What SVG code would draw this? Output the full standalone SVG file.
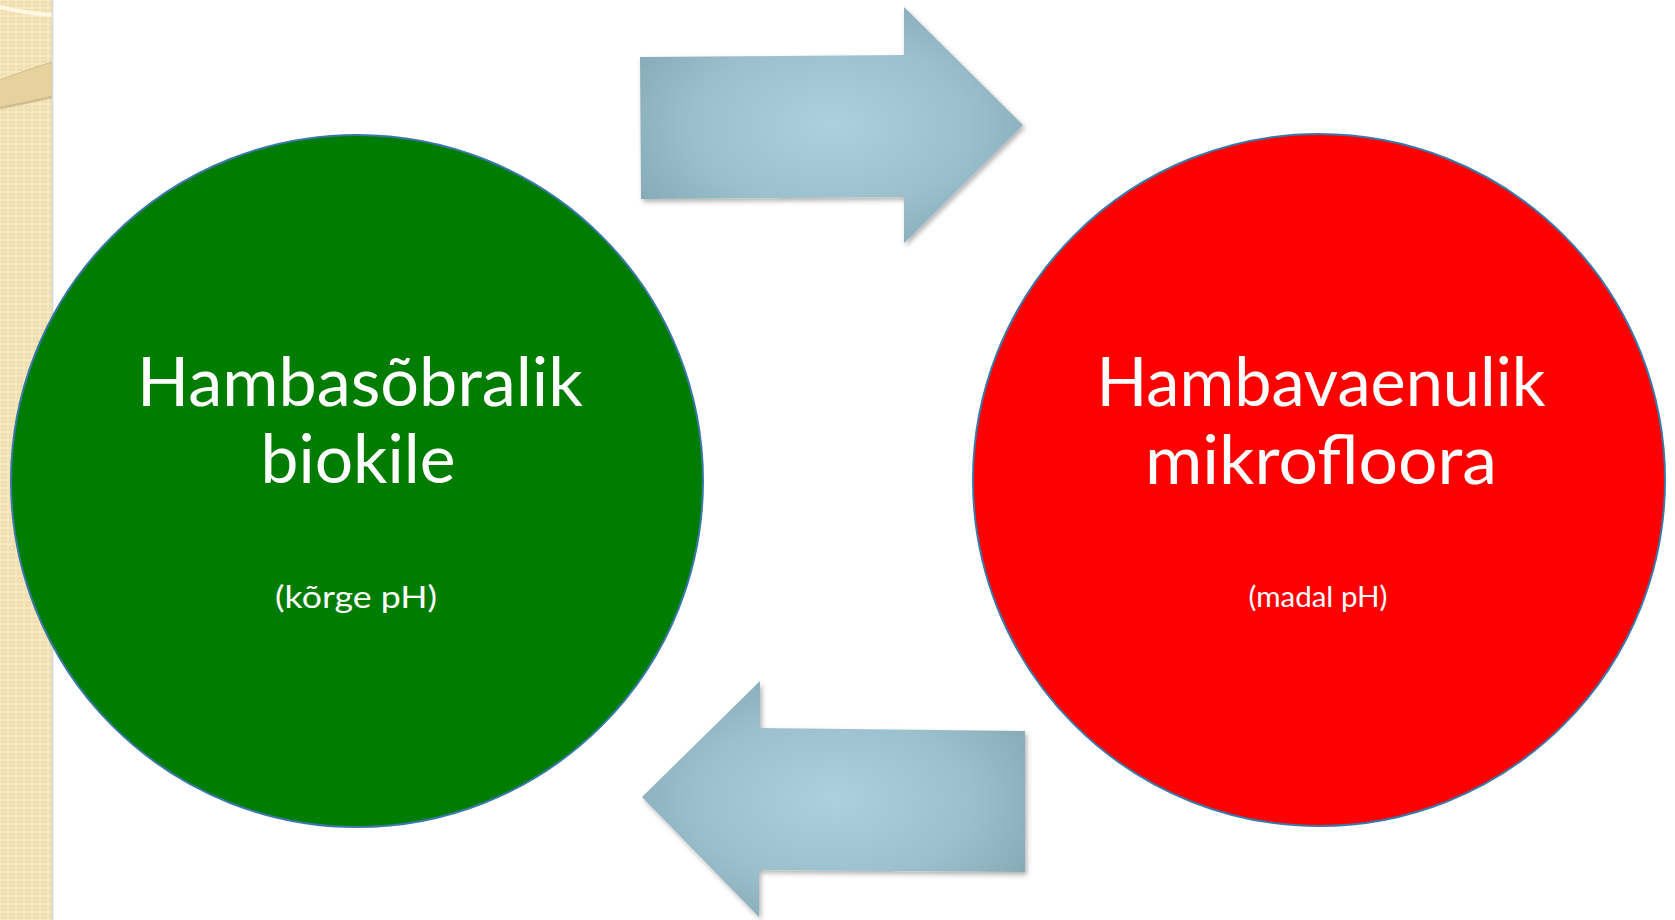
<svg xmlns="http://www.w3.org/2000/svg" width="1675" height="920" viewBox="0 0 1675 920">
  <style>
    .title { font-family: "Lato", "Open Sans", "Liberation Sans", sans-serif; fill: #ffffff; text-anchor: middle; }
    .big { font-size: 68px; }
    .small { font-size: 30px; }
    .circle { stroke: #3a78a8; stroke-width: 2; }
    .arrow { fill: url(#arrowGrad); filter: url(#shadow); }
  </style>
  <defs>
    <pattern id="weave" x="0" y="0" width="8" height="8" patternUnits="userSpaceOnUse">
      <rect width="8" height="8" fill="#f6e8c1"/>
      <rect x="1" y="1" width="6" height="6" fill="#eedcab"/>
      <rect x="2.5" y="2.5" width="3" height="3" fill="#f5e5ba"/>
    </pattern>
    <radialGradient id="arrowGrad" cx="50%" cy="50%" r="60%">
      <stop offset="0" stop-color="#acd0de"/>
      <stop offset="0.6" stop-color="#9cbfcd"/>
      <stop offset="1" stop-color="#86a9b6"/>
    </radialGradient>
    <filter id="shadow" x="-10%" y="-10%" width="120%" height="125%">
      <feDropShadow dx="2" dy="3" stdDeviation="2.5" flood-color="#000000" flood-opacity="0.3"/>
    </filter>
  </defs>

  <rect width="1675" height="920" fill="#ffffff"/>

  <!-- left decorative strip -->
  <g id="strip">
    <rect x="0" y="0" width="52" height="920" fill="url(#weave)"/>
    <path d="M0,7 Q28,14 52,15" fill="none" stroke="#fff8e4" stroke-width="4"/>
    <path d="M0,80 Q26,70 52,62 L52,97 Q26,103 0,108 Z" fill="#e7d29d"/>
    <path d="M0,80 Q26,70 52,62" fill="none" stroke="#cdbb8c" stroke-width="1"/>
    <path d="M0,108 Q26,103 52,97" fill="none" stroke="#c8b78c" stroke-width="2.5" opacity="0.8"/>
    <line x1="52.5" y1="0" x2="52.5" y2="920" stroke="#d4d4d4" stroke-width="1.5"/>
  </g>

  <!-- connectors -->
  <g id="connectors">
    <polygon class="arrow" points="640,57 904,55 904,7 1023,125 904,243 904,197 641,199"/>
    <polygon class="arrow" points="642,797 760,681 760,728 1025,731 1025,872 759,870 759,917"/>
  </g>

  <g id="node-green">
    <circle class="circle" cx="357" cy="481" r="346" fill="#007c00"/>
    <text class="title big" x="360" y="406" textLength="446" lengthAdjust="spacingAndGlyphs">Hambasõbralik</text>
    <text class="title big" x="358" y="483" textLength="195" lengthAdjust="spacingAndGlyphs">biokile</text>
    <text class="title small" x="356" y="608" textLength="162" lengthAdjust="spacingAndGlyphs">(kõrge pH)</text>
  </g>

  <g id="node-red">
    <circle class="circle" cx="1319" cy="480" r="346" fill="#ff0000"/>
    <text class="title big" x="1321" y="406" textLength="449" lengthAdjust="spacingAndGlyphs">Hambavaenulik</text>
    <text class="title big" x="1321" y="484" textLength="352" lengthAdjust="spacingAndGlyphs">mikrofloora</text>
    <text class="title small" x="1318" y="607" textLength="139" lengthAdjust="spacingAndGlyphs" style="font-size:28px">(madal pH)</text>
  </g>
</svg>
